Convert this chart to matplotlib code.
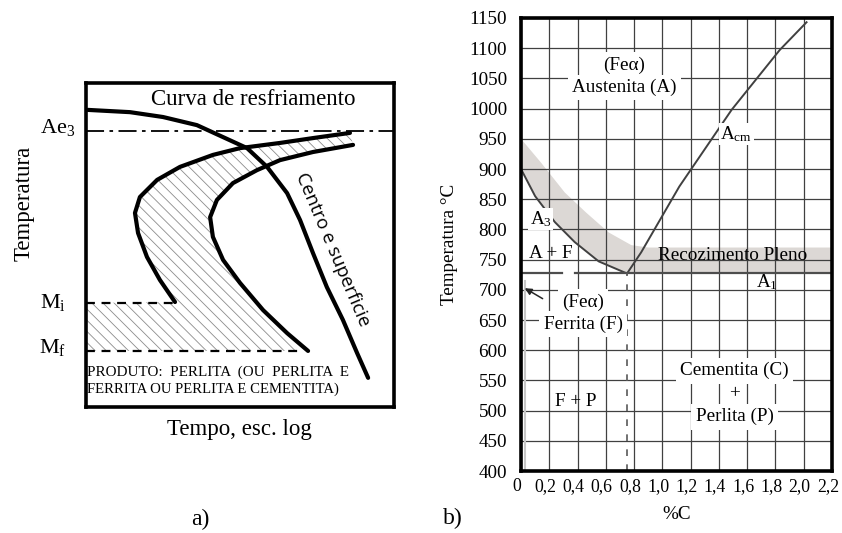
import numpy as np
import matplotlib
matplotlib.use("Agg")
import matplotlib.pyplot as plt
from matplotlib.transforms import ScaledTranslation

plt.rcParams['font.family'] = ['Liberation Serif', 'DejaVu Serif']
plt.rcParams['mathtext.fontset'] = 'custom'
plt.rcParams['mathtext.rm'] = 'Liberation Serif'
plt.rcParams['mathtext.it'] = 'Liberation Serif:italic'
plt.rcParams['hatch.linewidth'] = 0.6

# ---- a) curva TTT (eixos arbitrarios 0-100) ----
cool_x = [0.6, 14.3, 25.0, 36.0, 44.5, 52.3, 58.8, 65.3, 69.5, 73.7, 78.2, 83.4, 88.0, 91.6]
cool_y = [91.7, 91.0, 89.5, 87.0, 83.3, 79.9, 74.1, 66.0, 57.7, 47.5, 37.0, 26.9, 16.7, 9.0]

start_x = [85.7, 73.7, 63.0, 50.0, 41.2, 30.5, 23.1, 17.5, 15.9, 16.9, 19.8, 24.0, 28.9]
start_y = [84.6, 83.0, 81.5, 79.9, 77.8, 74.1, 70.1, 64.8, 59.9, 53.7, 46.3, 39.2, 32.4]

end_x = [86.7, 73.7, 63.0, 55.5, 47.7, 42.5, 40.3, 41.2, 44.5, 50.0, 57.5, 65.3, 72.1]
end_y = [80.9, 78.7, 76.2, 73.1, 69.1, 63.9, 58.6, 52.5, 45.4, 38.3, 29.9, 22.8, 17.3]

ae3 = 85.2
mi, mi_end = 32.1, 28.2
mf, mf_end = 17.3, 69.5

# ---- b) diagrama Fe-C ----
a3_x = [0.0, 0.10, 0.24, 0.38, 0.55, 0.75]
a3_t = [900, 855, 812, 779, 747, 727]
acm_x = [0.75, 0.85, 1.12, 1.49, 1.83, 2.02]
acm_t = [727, 762, 871, 998, 1097, 1143]
band_x = [0.0, 0.14, 0.31, 0.46, 0.62, 0.78, 0.90, 2.2]
band_t = [950, 911, 861, 828, 795, 774, 770, 770]
a1_t = 727
a1_segs = [(0.0, 0.29), (0.38, 2.2)]
eut_x = 0.75
xticks = [0, 0.2, 0.4, 0.6, 0.8, 1.0, 1.2, 1.4, 1.6, 1.8, 2.0, 2.2]
xlabels = ['0', '0,2', '0,4', '0,6', '0,8', '1,0', '1,2', '1,4', '1,6', '1,8', '2,0', '2,2']
yticks = list(range(400, 1151, 50))

fig = plt.figure(figsize=(8.42, 5.33), dpi=100)

# ================= a) =================
ax1 = fig.add_axes([86 / 842, 1 - 407 / 533, 308 / 842, 324 / 533])
ax1.set_xlim(0, 100)
ax1.set_ylim(0, 100)
ax1.set_xticks([])
ax1.set_yticks([])
for s in ax1.spines.values():
    s.set_linewidth(2.6)

# regiao hachurada
hx = np.concatenate([start_x, [0, 0], end_x[::-1]])
hy = np.concatenate([start_y, [mi, mf], end_y[::-1]])
ax1.fill(hx, hy, facecolor='none', edgecolor='0.55', hatch='\\\\\\', linewidth=0, zorder=1)

ax1.plot([0, 100], [ae3, ae3], color='k', lw=1.3, ls=(0, (10, 3, 2, 3)))
ax1.plot([0, mi_end], [mi, mi], color='k', lw=1.6, ls=(0, (4, 3)))
ax1.plot([0, mf_end], [mf, mf], color='k', lw=1.6, ls=(0, (4, 3)))

for xs, ys in [(cool_x, cool_y), (start_x, start_y), (end_x, end_y)]:
    ax1.plot(xs, ys, color='k', lw=3, solid_joinstyle='round', solid_capstyle='round', zorder=3)

ax1.text(54.2, 95.0, 'Curva de resfriamento', fontsize=16.5, ha='center', va='center')
ax1.text(80.0, 48.5, 'Centro e superficie', family='Open Sans', fontsize=13.5,
         rotation=-67, ha='center', va='center')
ax1.text(0.3, 10.8, 'PRODUTO:  PERLITA  (OU  PERLITA  E', fontsize=10.9, va='center')
ax1.text(0.3, 5.6, 'FERRITA OU PERLITA E CEMENTITA)', fontsize=10.6, va='center')

ax1.text(-9.1, ae3 + 1.2, r'Ae$_3$', fontsize=16, ha='center', va='center', clip_on=False)
ax1.text(-10.7, mi, r'M$_\mathrm{i}$', fontsize=16, ha='center', va='center', clip_on=False)
ax1.text(-10.7, mf + 1.2, r'M$_\mathrm{f}$', fontsize=16, ha='center', va='center', clip_on=False)
ax1.text(-20, 63, 'Temperatura', fontsize=16.5, rotation=90, ha='center', va='center', clip_on=False)
ax1.text(49.7, -6.8, 'Tempo, esc. log', fontsize=16.5, ha='center', va='center', clip_on=False)
fig.text(200 / 842, 1 - 519 / 533, 'a)', fontsize=17, ha='center', va='center')

# ================= b) =================
ax2 = fig.add_axes([521 / 842, 1 - 471 / 533, 311 / 842, 453 / 533])
ax2.set_xlim(0, 2.2)
ax2.set_ylim(400, 1150)
ax2.set_xticks(xticks)
ax2.set_xticklabels(xlabels)
ax2.set_yticks(yticks)
ax2.tick_params(length=0, labelsize=13.8)
ax2.tick_params(axis='y', pad=10)
ax2.tick_params(axis='x', pad=5, labelsize=12.8)
shift = ScaledTranslation(-4 / 100, 0, fig.dpi_scale_trans)
for lab in ax2.get_xticklabels():
    lab.set_transform(lab.get_transform() + shift)
ax2.set_axisbelow(True)
ax2.grid(True, color='0.25', lw=0.9)
for s in ax2.spines.values():
    s.set_linewidth(2.6)
    s.set_zorder(5)

ax2.fill(np.concatenate([band_x, [2.2], a3_x[::-1]]),
         np.concatenate([band_t, [a1_t], a3_t[::-1]]),
         color='#dcd8d5', lw=0, zorder=0.3)

ax2.plot(a3_x, a3_t, color='0.25', lw=1.4, zorder=2)
ax2.plot(acm_x, acm_t, color='0.25', lw=1.4, zorder=2)
for x0, x1 in a1_segs:
    ax2.plot([x0, x1], [a1_t, a1_t], color='0.3', lw=1.6, zorder=2)
ax2.plot([eut_x, eut_x], [400, a1_t], color='0.35', lw=1.2, ls=(0, (4, 5)), zorder=2)
ax2.plot([0.025, 0.025], [400, 715], color='0.78', lw=1.5, zorder=2)

wb = dict(facecolor='white', edgecolor='none', pad=3)
fs = 13.8
ax2.text(0.73, 1072, '(Feα)', fontsize=fs, ha='center', va='center', bbox=wb, zorder=3)
ax2.text(0.73, 1035, 'Austenita (A)', fontsize=fs, ha='center', va='center', bbox=wb, zorder=3)
ax2.text(1.41, 958, r'A$_\mathrm{cm}$', fontsize=fs, ha='left', va='center', bbox=dict(facecolor='white', edgecolor='none', pad=1), zorder=3)
ax2.text(0.14, 817, r'A$_3$', fontsize=fs, ha='center', va='center', bbox=dict(facecolor='white', edgecolor='none', pad=1), zorder=3)
ax2.text(0.21, 760, 'A + F', fontsize=fs, ha='center', va='center', zorder=3)
ax2.text(1.50, 757, 'Recozimento Pleno', fontsize=fs, ha='center', va='center', zorder=3)
ax2.text(1.74, 713, r'A$_1$', fontsize=fs, ha='center', va='center', zorder=3)
ax2.text(0.44, 680, '(Feα)', fontsize=fs, ha='center', va='center', bbox=wb, zorder=3)
ax2.text(0.44, 643, 'Ferrita (F)', fontsize=fs, ha='center', va='center', bbox=wb, zorder=3)
ax2.text(1.51, 566, 'Cementita (C)', fontsize=fs, ha='center', va='center', bbox=wb, zorder=3)
ax2.text(1.51, 528, '+', fontsize=fs, ha='center', va='center', bbox=wb, zorder=3)
ax2.text(1.51, 490, 'Perlita (P)', fontsize=fs, ha='center', va='center', bbox=wb, zorder=3)
ax2.text(0.39, 515, 'F + P', fontsize=fs, ha='center', va='center', zorder=3)
ax2.annotate('', xy=(0.01, 705), xytext=(0.17, 683),
             arrowprops=dict(arrowstyle='-|>', color='0.15', lw=1.1, mutation_scale=10), zorder=4)

ax2.set_xlabel('%C', fontsize=fs, labelpad=8)
ax2.set_ylabel('Temperatura °C', fontsize=fs, labelpad=8)
fig.text(453 / 842, 1 - 518 / 533, 'b)', fontsize=17, ha='center', va='center')

fig.savefig('out.png', dpi=100)
